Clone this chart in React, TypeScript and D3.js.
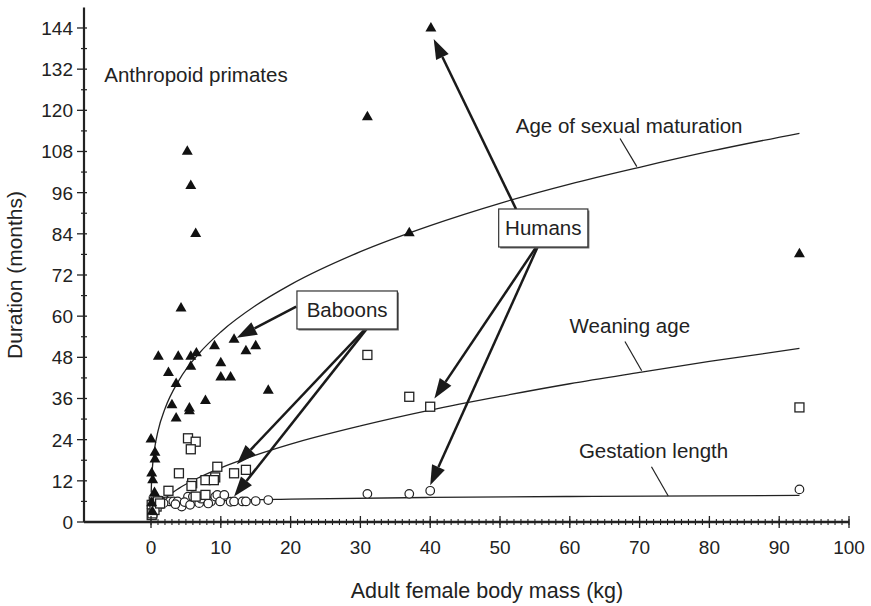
import React from 'react';
import * as d3 from 'd3';

// adult female body mass (kg) vs duration (months)
const maturation = [
  [40.1, 143.9], [31.0, 118], [37.0, 84.2], [92.9, 78.1], [5.2, 108], [5.7, 98], [6.4, 84],
  [4.3, 62.3], [1.05, 48.2], [3.9, 48.2], [5.7, 48.2], [6.5, 49.2], [9.1, 51.3], [11.9, 53.2],
  [13.6, 49.8], [15.0, 51.3], [2.5, 43.5], [5.7, 45.3], [10.0, 46.3], [10.0, 42.2], [11.4, 42.2],
  [3.6, 40.3], [16.8, 38.3], [3.0, 34.1], [7.8, 35.3], [5.5, 33.1], [5.5, 32.3], [3.6, 30.2],
  [0.0, 24.1], [0.57, 20.2], [0.57, 18.3], [0.1, 14.2], [0.24, 12.2], [0.5, 8.5], [0.1, 5.5], [0.2, 3.0],
];

const weaning = [
  [5.3, 24.4], [6.4, 23.4], [5.7, 21.2], [9.5, 16.1], [4.0, 14.2], [11.9, 14.2], [13.6, 15.2],
  [7.8, 12.2], [9.2, 13.0], [9.0, 12.2], [5.9, 11.3], [5.8, 10.5], [2.5, 9.1], [7.8, 7.9], [6.4, 7.4],
  [1.15, 5.4], [31.0, 48.7], [37.0, 36.5], [40.0, 33.6], [92.9, 33.4],
  [0.1, 2.0], [0.2, 3.0], [0.3, 4.0], [0.1, 5.0], [0.4, 6.0], [0.6, 5.5], [0.8, 4.5], [0.2, 2.5],
  [0.5, 3.5], [1.0, 6.0], [1.3, 5.4],
];

const gestation = [
  [0.5, 6.0], [1.4, 6.2], [2.1, 6.0], [2.7, 6.0], [3.2, 6.0], [3.8, 6.0], [4.4, 4.5], [5.2, 6.0],
  [5.3, 7.4], [6.0, 7.4], [6.5, 6.2], [7.8, 6.2], [8.6, 6.0], [9.2, 7.4], [9.5, 7.9], [9.9, 6.0],
  [10.5, 7.9], [11.4, 5.9], [11.9, 6.0], [13.1, 6.0], [13.6, 6.0], [15.0, 6.1], [16.8, 6.4],
  [1.8, 5.5], [3.5, 5.2], [4.8, 5.8], [6.9, 5.5], [7.2, 6.8], [8.2, 5.4], [5.6, 5.0],
  [0.1, 4.0], [0.2, 4.5], [0.3, 5.0], [0.5, 5.2], [0.7, 5.4], [0.9, 5.5], [1.1, 5.3], [0.15, 3.5], [0.4, 4.8],
  [31.0, 8.2], [37.0, 8.2], [40.0, 9.1], [92.9, 9.5],
];

// fitted curves
const maturationCurve = [
  [0.03, 8.6], [0.05, 10.1], [0.2, 15.8], [0.5, 21.2], [1, 26.5], [2, 33.0], [4, 41.3], [7, 49.4],
  [10, 55.4], [15, 63.1], [20, 69.2], [30, 78.8], [40, 86.4], [50, 92.9], [60, 98.5], [70, 103.4],
  [80, 108.0], [92.9, 113.3],
];
const weaningCurve = [
  [0.3, 2.5], [0.5, 3.3], [1, 4.75], [2, 6.8], [4, 9.8], [7, 13.1], [10, 15.8], [15, 19.5], [20, 22.7],
  [30, 28.0], [40, 32.6], [50, 36.6], [60, 40.3], [70, 43.6], [80, 46.8], [92.9, 50.6],
];
const gestationCurve = [
  [0.1, 4.0], [0.5, 4.67], [1, 5.0], [2, 5.35], [5, 5.84], [10, 6.25], [20, 6.69], [40, 7.15],
  [60, 7.44], [92.9, 7.76],
];

const yTicks = [0, 12, 24, 36, 48, 60, 72, 84, 96, 108, 120, 132, 144];
const xTicks = [0, 10, 20, 30, 40, 50, 60, 70, 80, 90, 100];

// callout boxes and arrows, in data units
const boxes = [
  { label: 'Humans', cx: 56.2, cy: 85.7 },
  { label: 'Baboons', cx: 28.1, cy: 61.8 },
];
const arrows = [
  [[52.3, 91.2], [40.5, 140.8]],
  [[55.2, 80.2], [40.6, 36.0]],
  [[55.4, 80.2], [40.0, 10.7]],
  [[20.8, 62.8], [12.3, 53.7]],
  [[30.7, 56.3], [12.3, 16.8]],
  [[30.9, 56.3], [11.9, 7.4]],
];
const curveLabels = [
  { text: 'Age of sexual maturation', x: 68.5, y: 113.4, from: [67.2, 111.8], to: [69.6, 103.6] },
  { text: 'Weaning age', x: 68.6, y: 55.0, from: [67.9, 52.6], to: [70.3, 44.1] },
  { text: 'Gestation length', x: 72.0, y: 18.6, from: [71.7, 16.1], to: [74.1, 7.6] },
];

const font = '"Liberation Sans", Arial, Helvetica, sans-serif';

export default function App() {
  const width = 871;
  const height = 606;

  const x = d3.scaleLinear().domain([-9.6, 100]).range([84, 849]);
  const y = d3.scaleLinear().domain([0, 150]).range([522, 7.4]);

  const line = d3
    .line<number[]>()
    .x(d => x(d[0]))
    .y(d => y(d[1]))
    .curve(d3.curveMonotoneX);

  const tri = d3.symbol().type(d3.symbolTriangle).size(52)();

  const arrowShape = (a: number[], b: number[]) => {
    const x1 = x(a[0]), y1 = y(a[1]), x2 = x(b[0]), y2 = y(b[1]);
    const ang = Math.atan2(y2 - y1, x2 - x1);
    const len = 20, hw = 7;
    const bx = x2 - len * Math.cos(ang), by = y2 - len * Math.sin(ang);
    const px = -Math.sin(ang) * hw, py = Math.cos(ang) * hw;
    return {
      line: [x1, y1, bx, by],
      head: `${x2},${y2} ${bx + px},${by + py} ${bx - px},${by - py}`,
    };
  };

  const minorX = d3.range(0, 101, 1);
  const minorY = d3.range(6, 150, 12);

  return (
    <svg width={width} height={height} style={{ position: 'absolute', left: 0, top: 0, background: '#fff' }}
      fontFamily={font} fill="#222">
      {/* curves */}
      {[maturationCurve, weaningCurve, gestationCurve].map((c, i) => (
        <path key={i} d={line(c) || ''} fill="none" stroke="#222" strokeWidth={1.3} />
      ))}

      {/* points */}
      {gestation.map((d, i) => (
        <circle key={'c' + i} cx={x(d[0])} cy={y(d[1])} r={4.3} fill="#fff" stroke="#222" strokeWidth={1.2} />
      ))}
      {weaning.map((d, i) => (
        <rect key={'s' + i} x={x(d[0]) - 4.5} y={y(d[1]) - 4.5} width={9} height={9}
          fill="#fff" stroke="#222" strokeWidth={1.3} />
      ))}
      {maturation.map((d, i) => (
        <path key={'t' + i} d={tri || ''} transform={`translate(${x(d[0])},${y(d[1])})`} fill="#111" />
      ))}

      {/* curve labels with leaders */}
      {curveLabels.map((l, i) => (
        <g key={'l' + i}>
          <text x={x(l.x)} y={y(l.y)} textAnchor="middle" fontSize={20.5}>{l.text}</text>
          <line x1={x(l.from[0])} y1={y(l.from[1])} x2={x(l.to[0])} y2={y(l.to[1])} stroke="#222" strokeWidth={1.2} />
        </g>
      ))}

      {/* arrows */}
      {arrows.map((a, i) => {
        const s = arrowShape(a[0], a[1]);
        return (
          <g key={'a' + i}>
            <line x1={s.line[0]} y1={s.line[1]} x2={s.line[2]} y2={s.line[3]} stroke="#1a1a1a" strokeWidth={2.5} />
            <polygon points={s.head} fill="#1a1a1a" />
          </g>
        );
      })}

      {/* callout boxes */}
      {boxes.map((b, i) => {
        const w = b.label.length * 11.2 + 22;
        const h = 38;
        const cx = x(b.cx), cy = y(b.cy);
        return (
          <g key={'b' + i}>
            <rect x={cx - w / 2 + 1.5} y={cy - h / 2 + 1.5} width={w} height={h} fill="#666" />
            <rect x={cx - w / 2} y={cy - h / 2} width={w} height={h} fill="#fff" stroke="#333" strokeWidth={1.2} />
            <text x={cx} y={cy + 7} textAnchor="middle" fontSize={20.5}>{b.label}</text>
          </g>
        );
      })}

      <text x={x(-6.7)} y={y(128.2)} fontSize={20.5}>Anthropoid primates</text>

      {/* y axis */}
      <line x1={x(-9.6)} y1={y(0)} x2={x(-9.6)} y2={y(150)} stroke="#222" strokeWidth={2.2} />
      {minorY.map(v => (
        <line key={'my' + v} x1={x(-9.6) - 3} x2={x(-9.6) + 3} y1={y(v)} y2={y(v)} stroke="#222" strokeWidth={1.2} />
      ))}
      {yTicks.map(v => (
        <g key={'y' + v}>
          <line x1={x(-9.6) - 7} x2={x(-9.6) + 3} y1={y(v)} y2={y(v)} stroke="#222" strokeWidth={1.3} />
          <text x={x(-9.6) - 11} y={y(v) + 7} textAnchor="end" fontSize={19}>{v}</text>
        </g>
      ))}

      {/* x axis */}
      <line x1={x(-9.6)} y1={y(0)} x2={x(100)} y2={y(0)} stroke="#222" strokeWidth={2.4} />
      {minorX.map(v => (
        <line key={'mx' + v} x1={x(v)} x2={x(v)} y1={y(0) - 3} y2={y(0) + 3} stroke="#222" strokeWidth={1.1} />
      ))}
      {xTicks.map(v => (
        <g key={'x' + v}>
          <line x1={x(v)} x2={x(v)} y1={y(0) - 6} y2={y(0) + 6} stroke="#222" strokeWidth={1.3} />
          <text x={x(v)} y={y(0) + 32} textAnchor="middle" fontSize={19}>{v}</text>
        </g>
      ))}

      <text x={487} y={598} textAnchor="middle" fontSize={21.5}>Adult female body mass (kg)</text>
      <text transform={`translate(22,${y(72)}) rotate(-90)`} textAnchor="middle" fontSize={21}>Duration (months)</text>
    </svg>
  );
}
